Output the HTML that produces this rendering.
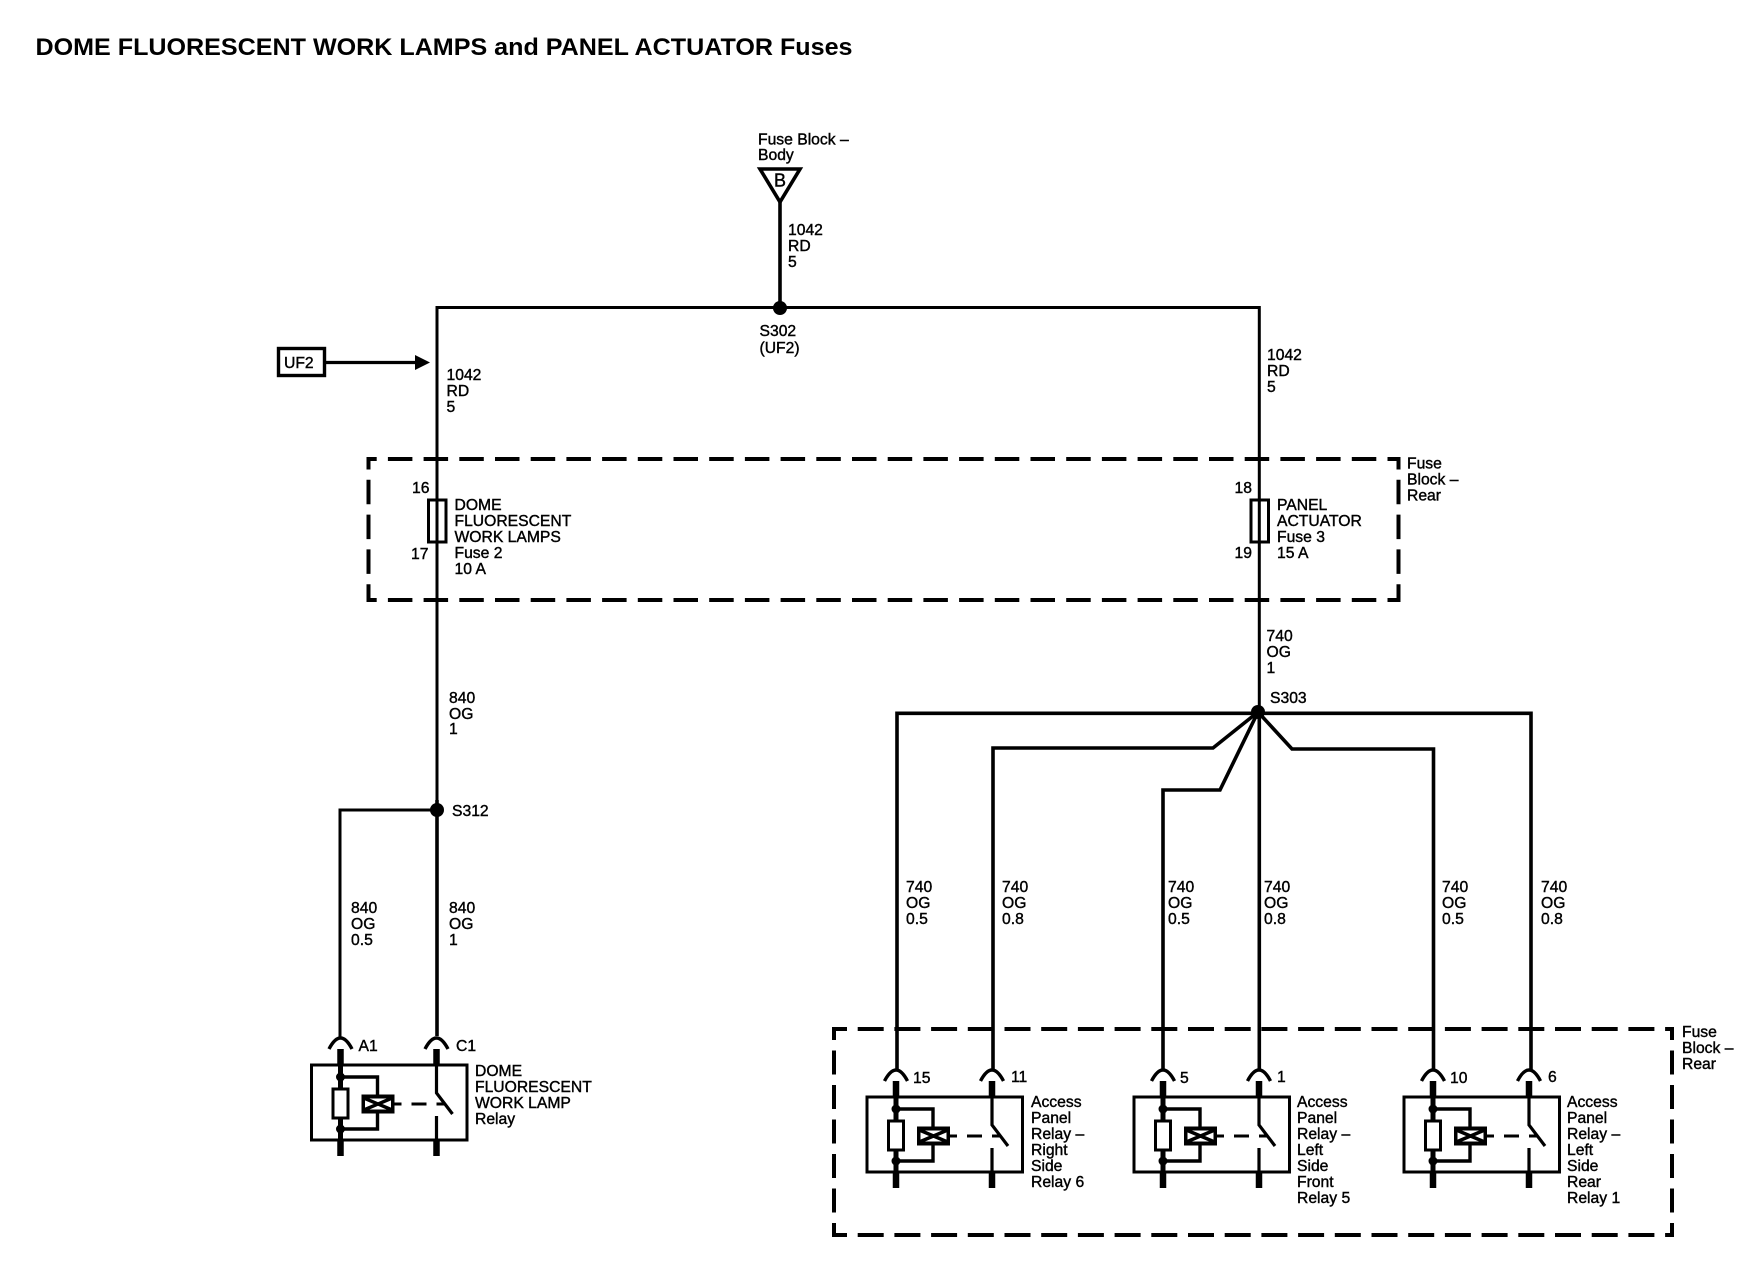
<!DOCTYPE html>
<html lang="en">
<head>
<meta charset="utf-8">
<title>DOME FLUORESCENT WORK LAMPS and PANEL ACTUATOR Fuses</title>
<style>
html,body{margin:0;padding:0;background:#fff;}
svg{display:block;}
text{font-family:"Liberation Sans",Arial,sans-serif;font-size:15.7px;fill:#000;stroke:#000;stroke-width:.4px;}
.title{font-size:24.5px;font-weight:bold;stroke:none;}
.w{fill:none;stroke:#000;stroke-width:3;}
.t{fill:none;stroke:#000;stroke-width:3.6;}
</style>
</head>
<body>
<svg xmlns="http://www.w3.org/2000/svg" width="1760" height="1280" viewBox="0 0 1760 1280">
<rect width="1760" height="1280" fill="#fff"/>
<defs>
<g id="relay">
  <rect x="-29" y="0" width="155.5" height="75" fill="#fff" stroke="#000" stroke-width="3"/>
  <path d="M-11.5 -16Q0 -38 11.5 -16M84.5 -16Q96 -38 107.5 -16" fill="none" stroke="#000" stroke-width="3.4"/>
  <path d="M0 -16V0M96 -16V0M0 75V91M96 75V91" fill="none" stroke="#000" stroke-width="6.5"/>
  <path d="M0 0V24M0 53V75" fill="none" stroke="#000" stroke-width="5"/>
  <rect x="-7.5" y="24" width="15" height="29" fill="#fff" stroke="#000" stroke-width="3"/>
  <circle cx="0" cy="12" r="4.5"/>
  <circle cx="0" cy="64" r="4.5"/>
  <path d="M0 12H37V30M37 47V64H0" fill="none" stroke="#000" stroke-width="3.4"/>
  <rect x="21" y="29.5" width="33" height="19" fill="#000"/>
  <rect x="24.5" y="33.5" width="26" height="11" fill="#fff"/>
  <path d="M24.5 33.5L50.5 44.5M24.5 44.5L50.5 33.5" stroke="#000" stroke-width="3.4" fill="none"/>
  <path d="M54 39H61M71 39H86M96 39H104" stroke="#000" stroke-width="3" fill="none"/>
  <path d="M96 0V28L112 49M96 51V75" fill="none" stroke="#000" stroke-width="3.2"/>
</g>
</defs>

<text class="title" x="35.5" y="55" textLength="817" lengthAdjust="spacingAndGlyphs">DOME FLUORESCENT WORK LAMPS and PANEL ACTUATOR Fuses</text>

<!-- Top feed -->
<text x="758" y="144.5">Fuse Block –</text>
<text x="758" y="160">Body</text>
<path d="M760 169H800L780 202Z" fill="#fff" stroke="#000" stroke-width="3.6"/>
<text x="780" y="186.5" text-anchor="middle" style="font-size:18px">B</text>
<path class="t" d="M780 202V308"/>
<text x="788" y="235">1042</text>
<text x="788" y="251">RD</text>
<text x="788" y="267">5</text>
<path class="w" d="M437 812V307.5H1259.3V1000"/>
<circle cx="780" cy="308" r="7"/>
<text x="759.5" y="336">S302</text>
<text x="759.5" y="353">(UF2)</text>

<rect x="278.5" y="348.5" width="46" height="27" fill="#fff" stroke="#000" stroke-width="3.4"/>
<text x="284" y="368">UF2</text>
<path d="M325 362.5H416" stroke="#000" stroke-width="3.2" fill="none"/>
<path d="M415 355L430 362.5L415 370Z"/>

<text x="446.5" y="380">1042</text>
<text x="446.5" y="396">RD</text>
<text x="446.5" y="412">5</text>
<text x="1267" y="360">1042</text>
<text x="1267" y="376">RD</text>
<text x="1267" y="392">5</text>

<!-- Upper dashed box -->
<g fill="none" stroke="#000" stroke-width="4">
  <path d="M1398.5 459H368.5" stroke-dasharray="24.5 11.2" stroke-dashoffset="13.5"/>
  <path d="M1398.5 600H368.5" stroke-dasharray="24.5 11.2" stroke-dashoffset="13.5"/>
  <path d="M368.5 457V602" stroke-dasharray="24.5 10.3" stroke-dashoffset="12"/>
  <path d="M1398.5 457V602" stroke-dasharray="24.5 10.3" stroke-dashoffset="12"/>
</g>
<text x="1407" y="468.5">Fuse</text>
<text x="1407" y="484.5">Block –</text>
<text x="1407" y="500.5">Rear</text>

<!-- Fuses -->
<rect x="428.5" y="500" width="17.5" height="42" fill="none" stroke="#000" stroke-width="3"/>
<text x="412" y="493">16</text>
<text x="411" y="559">17</text>
<text x="454.5" y="510">DOME</text>
<text x="454.5" y="526">FLUORESCENT</text>
<text x="454.5" y="542">WORK LAMPS</text>
<text x="454.5" y="558">Fuse 2</text>
<text x="454.5" y="574">10 A</text>

<rect x="1251" y="500" width="17.5" height="42" fill="none" stroke="#000" stroke-width="3"/>
<text x="1234.5" y="493">18</text>
<text x="1234.5" y="558">19</text>
<text x="1277" y="510">PANEL</text>
<text x="1277" y="526">ACTUATOR</text>
<text x="1277" y="542">Fuse 3</text>
<text x="1277" y="558">15 A</text>

<!-- Left branch -->
<text x="449" y="703">840</text>
<text x="449" y="719">OG</text>
<text x="449" y="734">1</text>
<path class="w" d="M340 1037V810H437"/>
<path class="t" d="M437 800V1036"/>
<circle cx="437" cy="810" r="7"/>
<text x="452" y="816">S312</text>
<text x="351" y="913">840</text>
<text x="351" y="929">OG</text>
<text x="351" y="945">0.5</text>
<text x="449" y="913">840</text>
<text x="449" y="929">OG</text>
<text x="449" y="945">1</text>

<use href="#relay" transform="translate(340.5 1065)"/>
<text x="358.5" y="1051">A1</text>
<text x="456" y="1051">C1</text>
<text x="475" y="1076">DOME</text>
<text x="475" y="1092">FLUORESCENT</text>
<text x="475" y="1108">WORK LAMP</text>
<text x="475" y="1124">Relay</text>

<!-- S303 -->
<text x="1266.5" y="641">740</text>
<text x="1266.5" y="657">OG</text>
<text x="1266.5" y="673">1</text>
<text x="1270" y="703">S303</text>
<path class="t" d="M897 1070V713.3H1531V1070"/>
<path class="t" d="M993 1070V748H1213L1258 712"/>
<path class="t" d="M1163 1070V790H1220L1258 712"/>
<path class="t" d="M1433.5 1070V749H1292L1258 712"/>
<path class="t" d="M1259.3 710V1070"/>
<circle cx="1258" cy="712" r="7"/>

<text x="906" y="892">740</text><text x="906" y="908">OG</text><text x="906" y="924">0.5</text>
<text x="1002" y="892">740</text><text x="1002" y="908">OG</text><text x="1002" y="924">0.8</text>
<text x="1168" y="892">740</text><text x="1168" y="908">OG</text><text x="1168" y="924">0.5</text>
<text x="1264" y="892">740</text><text x="1264" y="908">OG</text><text x="1264" y="924">0.8</text>
<text x="1442" y="892">740</text><text x="1442" y="908">OG</text><text x="1442" y="924">0.5</text>
<text x="1541" y="892">740</text><text x="1541" y="908">OG</text><text x="1541" y="924">0.8</text>

<!-- Lower dashed box -->
<g fill="none" stroke="#000" stroke-width="4">
  <path d="M832 1029H1674" stroke-dasharray="26 10.7" stroke-dashoffset="11"/>
  <path d="M832 1235H1674" stroke-dasharray="26 10.7" stroke-dashoffset="11"/>
  <path d="M834 1027V1237" stroke-dasharray="24 10.5" stroke-dashoffset="11"/>
  <path d="M1672 1027V1237" stroke-dasharray="24 10.5" stroke-dashoffset="11"/>
</g>
<text x="1682" y="1037">Fuse</text>
<text x="1682" y="1053">Block –</text>
<text x="1682" y="1069">Rear</text>

<use href="#relay" transform="translate(896 1097)"/>
<use href="#relay" transform="translate(1163 1097)"/>
<use href="#relay" transform="translate(1433 1097)"/>

<text x="913" y="1083">15</text>
<text x="1011" y="1082">11</text>
<text x="1180" y="1083">5</text>
<text x="1277" y="1082">1</text>
<text x="1450" y="1083">10</text>
<text x="1548" y="1082">6</text>

<text x="1031" y="1107">Access</text>
<text x="1031" y="1123">Panel</text>
<text x="1031" y="1139">Relay –</text>
<text x="1031" y="1155">Right</text>
<text x="1031" y="1171">Side</text>
<text x="1031" y="1187">Relay 6</text>

<text x="1297" y="1107">Access</text>
<text x="1297" y="1123">Panel</text>
<text x="1297" y="1139">Relay –</text>
<text x="1297" y="1155">Left</text>
<text x="1297" y="1171">Side</text>
<text x="1297" y="1187">Front</text>
<text x="1297" y="1203">Relay 5</text>

<text x="1567" y="1107">Access</text>
<text x="1567" y="1123">Panel</text>
<text x="1567" y="1139">Relay –</text>
<text x="1567" y="1155">Left</text>
<text x="1567" y="1171">Side</text>
<text x="1567" y="1187">Rear</text>
<text x="1567" y="1203">Relay 1</text>
</svg>
</body>
</html>
